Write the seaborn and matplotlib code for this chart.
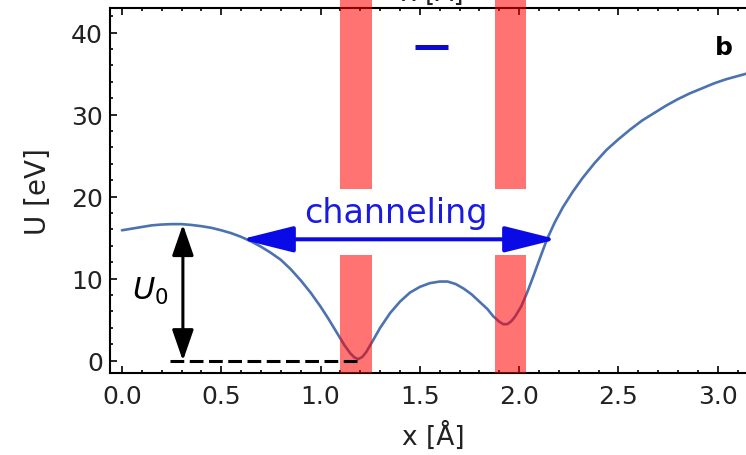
import matplotlib
matplotlib.use("Agg")
import matplotlib.pyplot as plt
from matplotlib.ticker import MultipleLocator
import seaborn as sns
import pandas as pd

# ---- data ----
x_pos = [0.00, 0.05, 0.10, 0.15, 0.20, 0.25, 0.30, 0.35, 0.40, 0.45, 0.50,
         0.55, 0.60, 0.65, 0.70, 0.75, 0.80, 0.85, 0.90, 0.95, 1.00, 1.04,
         1.08, 1.12, 1.15, 1.17, 1.19, 1.21, 1.23, 1.26, 1.30, 1.35, 1.40,
         1.45, 1.50, 1.55, 1.60, 1.64, 1.68, 1.72, 1.76, 1.80, 1.84, 1.87,
         1.90, 1.92, 1.94, 1.96, 1.98, 2.01, 2.04, 2.07, 2.10, 2.14, 2.18,
         2.22, 2.27, 2.32, 2.38, 2.44, 2.50, 2.56, 2.62, 2.68, 2.74, 2.80,
         2.86, 2.92, 2.98, 3.04, 3.10, 3.16, 3.20]
U_eV = [15.9, 16.1, 16.3, 16.5, 16.6, 16.65, 16.65, 16.55, 16.4, 16.2, 15.9,
        15.55, 15.1, 14.55, 13.9, 13.15, 12.3, 11.15, 9.8, 8.3, 6.6, 5.1,
        3.5, 1.9, 0.9, 0.4, 0.2, 0.45, 1.05, 2.3, 4.0, 5.8, 7.2,
        8.3, 9.0, 9.45, 9.65, 9.65, 9.35, 8.8, 8.1, 7.2, 6.3, 5.4,
        4.75, 4.45, 4.45, 4.8, 5.4, 6.6, 8.3, 10.2, 12.2, 14.8, 16.9,
        18.7, 20.6, 22.3, 24.1, 25.7, 27.0, 28.2, 29.3, 30.2, 31.1, 31.9,
        32.6, 33.2, 33.8, 34.3, 34.7, 35.1, 35.3]

bar_left = [1.098, 1.878]
bar_right = [1.257, 2.034]
bar_gap_low = 12.84     # top of the lower red segment
bar_gap_high = 20.9     # bottom of the upper red segment

channel_x = [0.60, 2.19]
channel_U = 14.8
U0_x = 0.307
U0_top = 16.6
U0_bottom = 0.0
dash_x = [0.24, 1.21]
dash_U = 0.0
legend_dash_x = [1.475, 1.643]
legend_dash_U = 38.2

x_ticks = [0.0, 0.5, 1.0, 1.5, 2.0, 2.5, 3.0]
y_ticks = [0, 10, 20, 30, 40]

# ---- style ----
sns.set_style("ticks")
plt.rcParams['font.family'] = ['DejaVu Sans']
plt.rcParams['mathtext.fontset'] = 'dejavusans'

W, H = 746, 456
fig = plt.figure(figsize=(W / 100, H / 100), dpi=100)
left_px, right_px, bottom_px, top_px = 110, 757.5, 374, 9
ax = fig.add_axes([left_px / W, (H - bottom_px) / H,
                   (right_px - left_px) / W, (bottom_px - top_px) / H])

df = pd.DataFrame({"x": x_pos, "U": U_eV})
sns.lineplot(data=df, x="x", y="U", ax=ax, color="#4C72B0", lw=1.9,
             sort=False, zorder=2)

# red bars (semi-transparent, above curve)
centers = [(a + b) / 2 for a, b in zip(bar_left, bar_right)]
widths = [b - a for a, b in zip(bar_left, bar_right)]
ax.bar(centers, [bar_gap_low + 2] * 2, bottom=-2, width=widths,
       color="red", alpha=0.55, lw=0, zorder=3)
ax.bar(centers, [50 - bar_gap_high] * 2, bottom=bar_gap_high, width=widths,
       color="red", alpha=0.55, lw=0, zorder=3, clip_on=False)

# dashed baseline
ax.plot(dash_x, [dash_U, dash_U], color="black", lw=2.2, ls="--",
        dashes=(4.5, 1.8), zorder=4)

# U0 double arrow
ax.annotate("", xy=(U0_x, U0_bottom), xytext=(U0_x, U0_top),
            arrowprops=dict(arrowstyle="<|-|>,head_length=0.95,head_width=0.33",
                            color="black", lw=2.2, shrinkA=0, shrinkB=0,
                            mutation_scale=20), zorder=5)
ax.text(0.05, 8.6, r"$U_0$", fontsize=22, ha="left", va="center", color="black")

# channeling arrow
ax.annotate("", xy=(channel_x[1], channel_U), xytext=(channel_x[0], channel_U),
            arrowprops=dict(arrowstyle="<|-|>,head_length=1.6,head_width=0.4",
                            color="#0a0ae6", lw=2.9, shrinkA=0, shrinkB=0,
                            mutation_scale=20), zorder=5)
ax.text(1.38, 16.9, "channeling", fontsize=24, color="#1a1ae0",
        ha="center", va="baseline")

# small blue dash (legend remnant)
ax.plot(legend_dash_x, [legend_dash_U] * 2, color="#0a0ad0", lw=3.6,
        solid_capstyle="butt")

ax.text(3.03, 38.3, "b", fontsize=18, fontweight="bold", ha="center",
        va="center", color="black")

ax.set_xlim(-0.06, 3.2)
ax.set_ylim(-1.5, 43)
ax.set_xticks(x_ticks)
ax.set_yticks(y_ticks)
ax.xaxis.set_minor_locator(MultipleLocator(0.1))
ax.yaxis.set_minor_locator(MultipleLocator(2))
ax.tick_params(which="both", direction="in", top=True, right=False,
               labelsize=18, colors="black", labelcolor="#222222", width=1.2)
ax.tick_params(which="major", length=5)
ax.tick_params(which="minor", length=2.5)
ax.tick_params(axis="x", pad=8)
ax.tick_params(axis="y", pad=5)
for s in ["left", "bottom", "top"]:
    ax.spines[s].set_linewidth(1.5)
    ax.spines[s].set_color("black")
ax.spines["right"].set_visible(False)

ax.set_xlabel("x [Å]", fontsize=19, color="#222222", labelpad=9)
ax.set_ylabel("U [eV]", fontsize=20, color="#222222", labelpad=14)

# cut-off label of the panel above
fig.text(432 / W, 1 - 1 / H, "x [Å]", fontsize=19, color="#222222",
         ha="center", va="baseline")

fig.savefig("out.png", dpi=100)
